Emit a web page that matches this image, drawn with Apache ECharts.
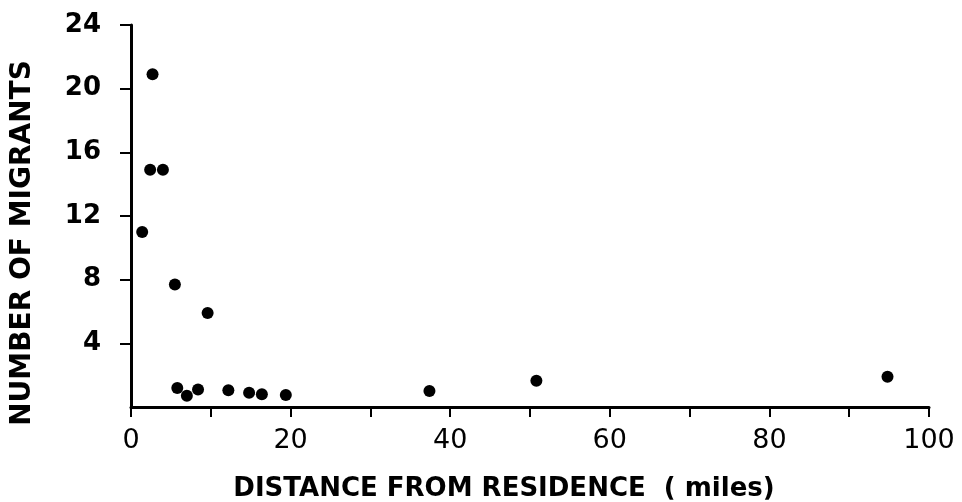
<!DOCTYPE html>
<html>
<head>
<meta charset="utf-8">
<script src="https://cdn.jsdelivr.net/npm/echarts@6/dist/echarts.min.js"></script>
<style>
  html, body { margin: 0; padding: 0; background: #fff; }
  #chart { width: 962px; height: 502px; }
</style>
</head>
<body>
<div id="chart"></div>
<script>
  // distance (miles) and number of migrants
  var distance = [1.4, 2.4, 2.7, 4.0, 5.5, 5.8, 7.0, 8.4, 9.6, 12.2, 14.8, 16.4, 19.4, 37.4, 50.8, 94.8];
  var migrants = [11.0, 14.9, 20.9, 14.9, 7.7, 1.2, 0.7, 1.1, 5.9, 1.05, 0.9, 0.8, 0.75, 1.0, 1.65, 1.9];
  var xLabels = [0, 20, 40, 60, 80, 100];
  var yLabels = [4, 8, 12, 16, 20, 24];

  var points = distance.map(function (d, i) { return [d, migrants[i]]; });
  var font = 'DejaVu Sans';

  var chart = echarts.init(document.getElementById('chart'));
  chart.setOption({
    animation: false,
    grid: { left: 131, right: 33, top: 25, bottom: 95, outerBoundsMode: 'none' },
    xAxis: {
      type: 'value',
      min: 0, max: 100, interval: 10,
      name: 'DISTANCE FROM RESIDENCE  ( miles)',
      nameLocation: 'middle',
      nameGap: 69,
      nameTextStyle: { color: '#000', fontFamily: font, fontSize: 26, fontWeight: 'bold', padding: [0, 0, 0, -52] },
      splitLine: { show: false },
      axisLine: { lineStyle: { color: '#000', width: 3 } },
      axisTick: { inside: false, length: 10, lineStyle: { color: '#000', width: 2 } },
      axisLabel: {
        color: '#000', fontFamily: font, fontSize: 27, margin: 20,
        formatter: function (v) { return xLabels.indexOf(v) >= 0 ? String(v) : ''; }
      }
    },
    yAxis: {
      type: 'value',
      min: 0, max: 24, interval: 4,
      name: 'NUMBER OF MIGRANTS',
      nameLocation: 'middle',
      nameGap: 94,
      nameTextStyle: { color: '#000', fontFamily: font, fontSize: 28, fontWeight: 'bold', padding: [0, 0, 0, -54] },
      splitLine: { show: false },
      axisLine: { lineStyle: { color: '#000', width: 3 } },
      axisTick: { inside: false, length: 11, lineStyle: { color: '#000', width: 2 } },
      axisLabel: {
        color: '#000', fontFamily: font, fontSize: 26, fontWeight: 'bold', margin: 30,
        showMinLabel: false,
        formatter: function (v) { return yLabels.indexOf(v) >= 0 ? String(v) : ''; }
      }
    },
    series: [{
      type: 'scatter',
      data: points,
      symbol: 'circle',
      symbolSize: 12,
      itemStyle: { color: '#000', opacity: 1 }
    }]
  });
</script>
</body>
</html>
